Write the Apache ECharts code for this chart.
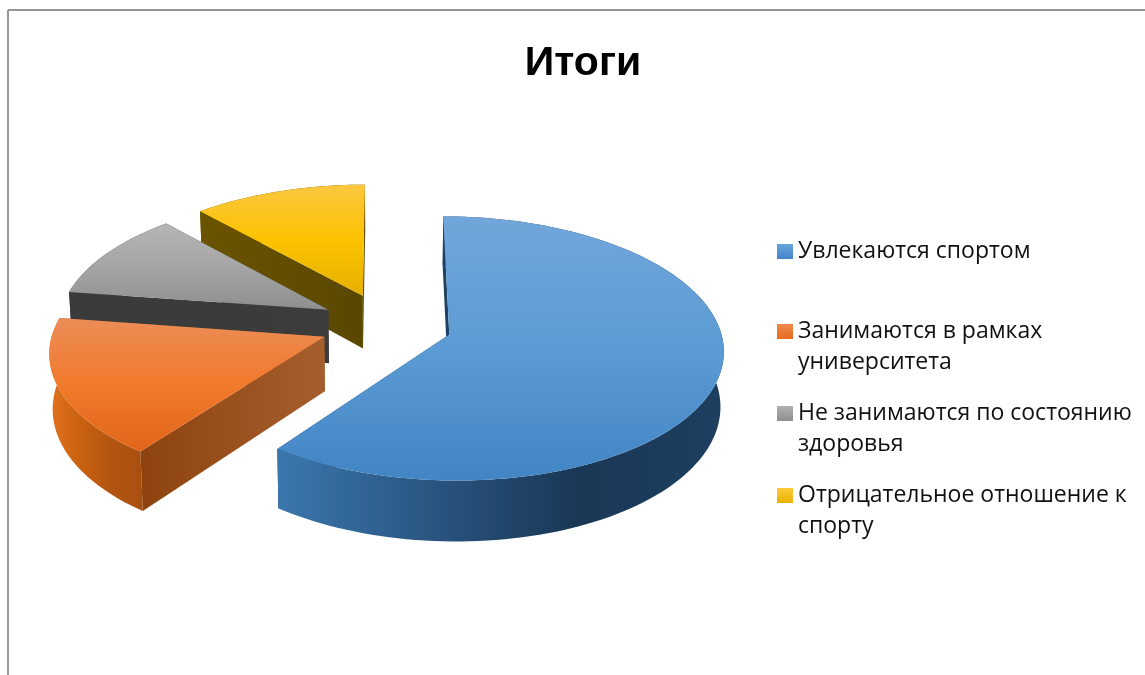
<!DOCTYPE html>
<html>
<head>
<meta charset="utf-8">
<title>Итоги</title>
<style>
  html, body { margin: 0; padding: 0; background: #fff; }
  #main { width: 1145px; height: 675px; }
</style>
<script src="https://cdn.jsdelivr.net/npm/echarts@6/dist/echarts.min.js"></script>
</head>
<body>
<div id="main"></div>
<script>
const titleText = "Итоги";
const sliceNames = [
  "Увлекаются спортом",
  "Занимаются в рамках\nуниверситета",
  "Не занимаются по состоянию\nздоровья",
  "Отрицательное отношение к\nспорту"
];
const sliceValues = [60.2, 17.1, 11, 11.7];

// top face, outer wall, cut wall colours
const topColors = [
  ["#72a6db", "#5b9bd5", "#4285c4"],
  ["#ec8d58", "#f17a2b", "#e0651a"],
  ["#b6b6b6", "#a5a5a5", "#8e8e8e"],
  ["#fbc73f", "#fdc300", "#e5b000"]
];
const wallColors = [
  ["#3b77ae", "#2a5682", "#1a3856", "#1e3f60"],
  ["#e27320", "#c9610f", "#b35511", "#a84f10"],
  ["#4a4a4a", "#444444", "#3e3e3e", "#3a3a3a"],
  ["#6b5400", "#665000", "#604c00", "#5c4800"]
];
const cutColors = [
  ["#1f4263", "#1f4263"],
  ["#8e430e", "#a55e2d"],
  ["#3a3a3a", "#3c3c3c"],
  ["#6a5400", "#5a4700"]
];
const legendColors = [
  ["#6aa5dd", "#4285c8"],
  ["#f0884a", "#e66c1e"],
  ["#b0b0b0", "#8f8f8f"],
  ["#fdc93a", "#e8b200"]
];

// pie shape on screen
const cx = 386, cy = 324.5, rx = 270, ry = 128.5;
const persp = 0.105, explode = 0.245, depth = 54, bottomScale = 0.99;

const total = sliceValues.reduce((a, b) => a + b, 0);

function project(u, v, low) {
  let s = 1 / (1 - persp * v);
  let x = cx + rx * u * s;
  let y = cy + ry * v * s;
  if (low) {
    x = cx + (x - cx) * bottomScale;
    y = y + depth * s;
  }
  return [x, y];
}

function vGrad(c) {
  return new echarts.graphic.LinearGradient(0, 0, 0, 1, [
    { offset: 0, color: c[0] },
    { offset: 0.5, color: c[1] },
    { offset: 1, color: c[2] }
  ]);
}

function hGrad(c) {
  let stops = c.map((color, i) => ({ offset: i / (c.length - 1), color: color }));
  return new echarts.graphic.LinearGradient(0, 0, 1, 0, stops);
}

function renderSlice(i) {
  return function(params, api) {
    let before = 0;
    for (let k = 0; k < i; k++) before += sliceValues[k];
    let a0 = (before / total) * Math.PI * 2;
    let a1 = ((before + api.value(0)) / total) * Math.PI * 2;
    let mid = (a0 + a1) / 2;
    let u0 = Math.sin(mid) * explode;
    let v0 = -Math.cos(mid) * explode;

    let steps = Math.ceil((a1 - a0) / 0.03);
    let arcTop = [], arcLow = [];
    for (let n = 0; n <= steps; n++) {
      let a = a0 + ((a1 - a0) * n) / steps;
      let u = u0 + Math.sin(a);
      let v = v0 - Math.cos(a);
      arcTop.push(project(u, v, false));
      arcLow.push(project(u, v, true));
    }
    let apexTop = project(u0, v0, false);
    let apexLow = project(u0, v0, true);

    let poly = (points, fill) => ({
      type: "polygon",
      shape: { points: points },
      style: { fill: fill, stroke: null }
    });

    return {
      type: "group",
      children: [
        // конец сектора
        poly([apexTop, arcTop[steps], arcLow[steps], apexLow], hGrad(cutColors[i])),
        // внешняя стенка
        poly(arcTop.concat(arcLow.slice().reverse()), hGrad(wallColors[i])),
        // начало сектора
        poly([apexTop, arcTop[0], arcLow[0], apexLow], hGrad(cutColors[i])),
        // верх
        poly([apexTop].concat(arcTop), vGrad(topColors[i]))
      ]
    };
  };
}

function swatch(i, part) {
  return new echarts.graphic.LinearGradient(0, 0, 0, 1, [
    { offset: 0, color: legendColors[i][0] },
    { offset: part, color: legendColors[i][1] },
    { offset: 1, color: legendColors[i][1] }
  ]);
}

const legendText = { fontFamily: "Open Sans", fontSize: 23, color: "#111", lineHeight: 31 };

let myChart = echarts.init(document.getElementById("main"));

let option = {
  backgroundColor: "#fff",
  animation: false,
  title: {
    text: titleText,
    left: 583,
    top: 43,
    padding: 0,
    textAlign: "center",
    textStyle: { fontFamily: "Liberation Sans", fontSize: 41, fontWeight: "bold", color: "#000" }
  },
  legend: [
    {
      orient: "vertical",
      left: 777,
      top: 236,
      padding: 0,
      itemWidth: 16,
      itemHeight: 15,
      itemGap: 0,
      selectedMode: false,
      icon: "rect",
      textStyle: legendText,
      data: [{ name: sliceNames[0], itemStyle: { color: swatch(0, 1) } }]
    },
    {
      orient: "vertical",
      left: 777,
      top: 316,
      padding: 0,
      itemWidth: 16,
      itemHeight: 46,
      itemGap: 20,
      selectedMode: false,
      // квадрат в верхней части значка, чтобы стоял у первой строки
      icon: "path://M0 0H16V15H0Z M0 46H0",
      textStyle: legendText,
      data: [1, 2, 3].map(i => ({ name: sliceNames[i], itemStyle: { color: swatch(i, 15 / 46) } }))
    }
  ],
  graphic: [
    { type: "line", shape: { x1: 8, y1: 10, x2: 1145, y2: 10 }, style: { stroke: "#979797", lineWidth: 2 } },
    { type: "line", shape: { x1: 8, y1: 10, x2: 8, y2: 675 }, style: { stroke: "#979797", lineWidth: 2 } }
  ],
  series: sliceNames.map((name, i) => ({
    type: "custom",
    name: name,
    coordinateSystem: "none",
    z: 10 - i,
    silent: true,
    itemStyle: { color: topColors[i][1] },
    renderItem: renderSlice(i),
    data: [[sliceValues[i]]]
  }))
};

myChart.setOption(option);
</script>
</body>
</html>
